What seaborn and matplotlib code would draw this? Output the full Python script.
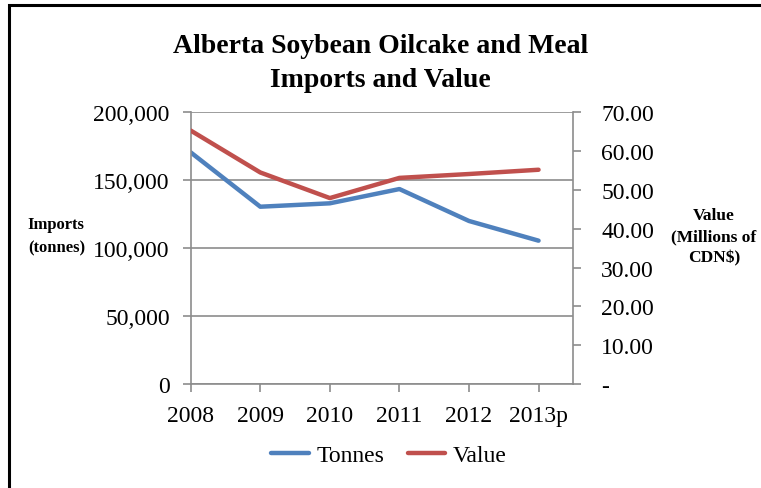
import matplotlib
matplotlib.use("Agg")
import matplotlib.pyplot as plt
import seaborn as sns
import pandas as pd
from matplotlib.patches import Rectangle
from matplotlib.lines import Line2D

years = ["2008", "2009", "2010", "2011", "2012", "2013p"]
tonnes = [170500, 130500, 133000, 143500, 120000, 105500]
value = [65.3, 54.5, 47.9, 53.1, 54.1, 55.2]
left_ticks = [0, 50000, 100000, 150000, 200000]
left_labels = ["0", "50,000", "100,000", "150,000", "200,000"]
right_ticks = [0, 10, 20, 30, 40, 50, 60, 70]
right_labels = ["-", "10.00", "20.00", "30.00", "40.00", "50.00", "60.00", "70.00"]

sns.set_theme(style="white")
plt.rcParams["font.family"] = ["Liberation Serif", "DejaVu Serif"]
plt.rcParams["text.color"] = "black"

BLUE = "#4F81BD"
RED = "#C0504D"
GRID = "#8C8C8C"

df = pd.DataFrame({"pos": range(len(years)), "Tonnes": tonnes, "Value": value})

fig = plt.figure(figsize=(7.61, 4.89), dpi=100)
ax = fig.add_axes([0.2506, 0.2127, 0.5028, 0.5556])
ax2 = ax.twinx()

sns.lineplot(data=df, x="pos", y="Tonnes", ax=ax, color=BLUE, linewidth=3.2,
             solid_capstyle="round", legend=False)
sns.lineplot(data=df, x="pos", y="Value", ax=ax2, color=RED, linewidth=3.2,
             solid_capstyle="round", legend=False)

ax.set_xlim(0, 5.5)
ax.set_ylim(0, 200000)
ax2.set_ylim(0, 70)

ax.set_yticks(left_ticks)
ax.set_yticklabels(left_labels, fontsize=17)
ax2.set_yticks(right_ticks)
ax2.set_yticklabels(right_labels, fontsize=17)
ax.set_xticks(range(len(years)))
ax.set_xticklabels(years, fontsize=17)

for a in (ax, ax2):
    a.set_xlabel("")
    a.set_ylabel("")
    for s in a.spines.values():
        s.set_visible(False)

ax.yaxis.grid(True, color=GRID, linewidth=1.2)
ax.set_axisbelow(True)
ax.spines["left"].set_visible(True)
ax.spines["left"].set_color(GRID)
ax.spines["bottom"].set_visible(True)
ax.spines["bottom"].set_color(GRID)
ax2.spines["right"].set_visible(True)
ax2.spines["right"].set_color(GRID)
for s in (ax.spines["left"], ax.spines["bottom"], ax2.spines["right"]):
    s.set_linewidth(1.2)

ax.tick_params(axis="y", direction="out", length=6, width=1.2, color=GRID, pad=9,
               left=True, labelcolor="black")
ax.tick_params(axis="x", direction="out", length=6, width=1.2, color=GRID, pad=9,
               bottom=True, labelcolor="black")
ax2.tick_params(axis="y", direction="out", length=6, width=1.2, color=GRID, pad=14,
                right=True, labelcolor="black")

fig.text(0.5, 0.905, "Alberta Soybean Oilcake and Meal", ha="center", va="center",
         fontsize=20, fontweight="bold", color="black")
fig.text(0.5, 0.835, "Imports and Value", ha="center", va="center",
         fontsize=20, fontweight="bold", color="black")

fig.text(0.074, 0.516, "Imports\n(tonnes)", ha="center", va="center",
         fontsize=12, fontweight="bold", linespacing=1.55, color="black")
fig.text(0.938, 0.515, "Value\n(Millions of\nCDN$)", ha="center", va="center",
         fontsize=12.5, fontweight="bold", linespacing=1.4, color="black")

handles = [Line2D([], [], color=BLUE, linewidth=3.2, solid_capstyle="round"),
           Line2D([], [], color=RED, linewidth=3.2, solid_capstyle="round")]
leg = fig.legend(handles, ["Tonnes", "Value"], loc="center", bbox_to_anchor=(0.511, 0.066),
                 ncol=2, frameon=False, fontsize=17, handlelength=1.6, handletextpad=0.3,
                 columnspacing=1.0)
for t in leg.get_texts():
    t.set_color("black")

fig.patches.append(Rectangle((9 / 761, -0.1), 1.2, 1.1 - 6 / 489,
                             transform=fig.transFigure, fill=False,
                             edgecolor="black", linewidth=2.2))

fig.savefig("out.png", dpi=100)
